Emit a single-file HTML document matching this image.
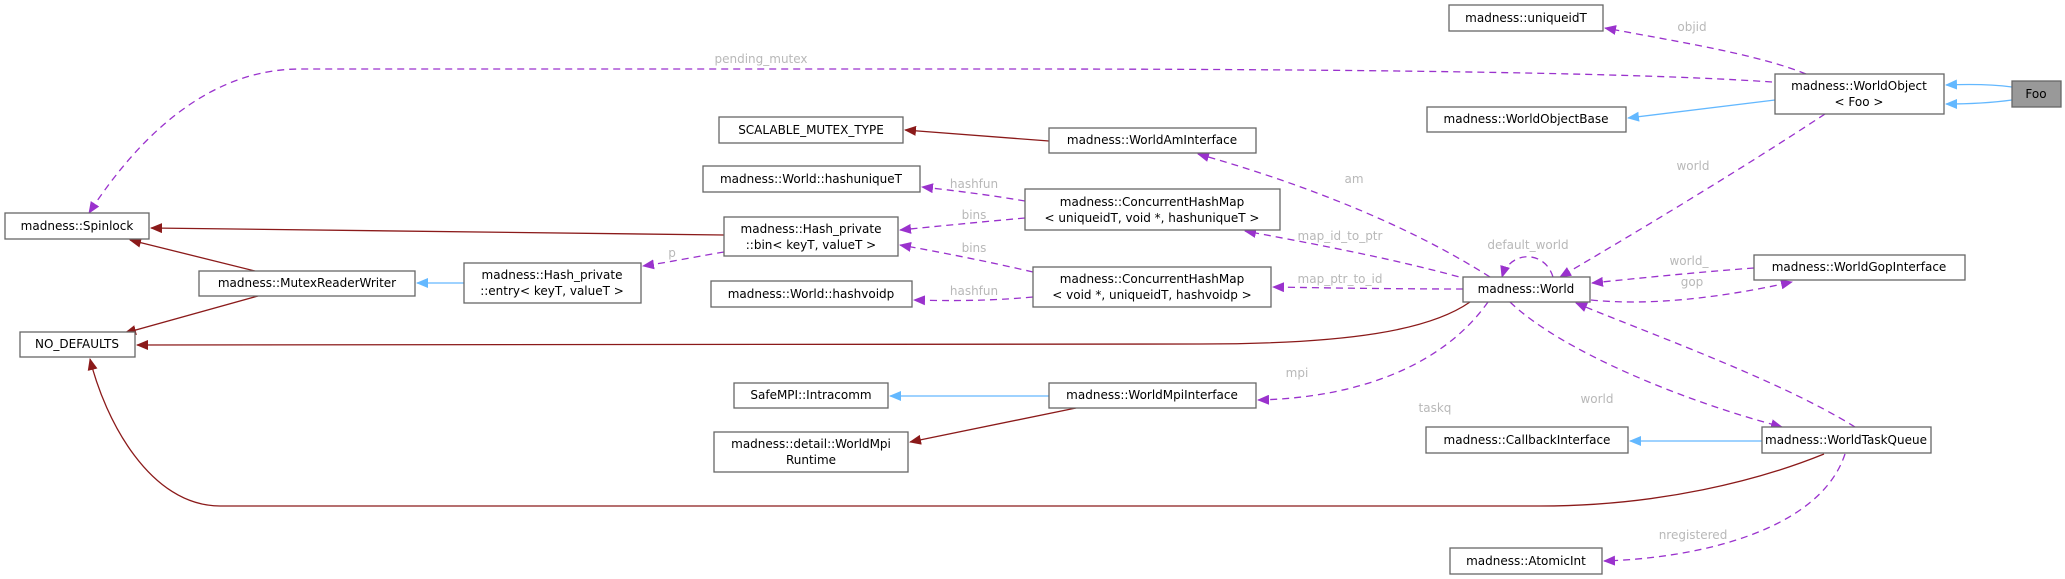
<!DOCTYPE html>
<html><head><meta charset="utf-8"><style>
html,body{margin:0;padding:0;background:#fff;}
svg{display:block;}
text{font-family:"DejaVu Sans","Liberation Sans",sans-serif;font-size:12px;}
.n{fill:#fff;stroke:#666;stroke-width:1.3;}
.t{fill:#000;text-anchor:middle;}
.l{fill:#b8b8b8;text-anchor:middle;}
.p{fill:none;stroke:#9a32cd;stroke-width:1.3;stroke-dasharray:7,5;}
.b{fill:none;stroke:#63b8ff;stroke-width:1.3;}
.r{fill:none;stroke:#8b1a1a;stroke-width:1.3;}
</style></head><body>
<svg width="2065" height="579" viewBox="0 0 2065 579" xmlns="http://www.w3.org/2000/svg">
<defs>
<marker id="mp" markerWidth="12" markerHeight="10" refX="11" refY="5" orient="auto" markerUnits="userSpaceOnUse"><path d="M0,0 L12,5 L0,10 z" fill="#9a32cd"/></marker>
<marker id="mb" markerWidth="12" markerHeight="10" refX="11" refY="5" orient="auto" markerUnits="userSpaceOnUse"><path d="M0,0 L12,5 L0,10 z" fill="#63b8ff"/></marker>
<marker id="mr" markerWidth="12" markerHeight="10" refX="11" refY="5" orient="auto" markerUnits="userSpaceOnUse"><path d="M0,0 L12,5 L0,10 z" fill="#8b1a1a"/></marker>
</defs>

<path class="b" d="M2012,87 C1990,84 1970,84 1946,85" marker-end="url(#mb)"/>
<path class="b" d="M2012,100 C1990,103 1970,104 1946,104" marker-end="url(#mb)"/>
<path class="b" d="M1775,100 L1628,118" marker-end="url(#mb)"/>
<path class="p" d="M1806,74 C1760,55 1680,42 1605,28" marker-end="url(#mp)"/>
<path class="p" d="M1772,82 C1600,70 1200,69 1000,69 L300,69 C200,69 130,150 89,213" marker-end="url(#mp)"/>
<path class="p" d="M1825,114 C1740,170 1640,230 1560,277" marker-end="url(#mp)"/>
<path class="p" d="M1553,277 C1545,250 1510,250 1502,277" marker-end="url(#mp)"/>
<path class="p" d="M1591,300 C1650,306 1720,298 1792,282" marker-end="url(#mp)"/>
<path class="p" d="M1754,268 C1700,272 1640,278 1592,283" marker-end="url(#mp)"/>
<path class="p" d="M1490,277 C1400,220 1290,180 1198,154" marker-end="url(#mp)"/>
<path class="p" d="M1470,280 C1400,260 1320,245 1245,231" marker-end="url(#mp)"/>
<path class="p" d="M1463,289 C1400,289 1330,288 1273,287" marker-end="url(#mp)"/>
<path class="r" d="M1470,302 C1430,330 1350,344 1200,344 L137,345" marker-end="url(#mr)"/>
<path class="p" d="M1488,302 C1440,370 1350,398 1258,400" marker-end="url(#mp)"/>
<path class="p" d="M1510,302 C1560,350 1680,400 1782,427" marker-end="url(#mp)"/>
<path class="p" d="M1855,427 C1780,380 1640,330 1576,303" marker-end="url(#mp)"/>
<path class="b" d="M1762,441 L1630,441" marker-end="url(#mb)"/>
<path class="r" d="M1824,454 C1760,480 1660,506 1540,506 L220,506 C150,506 105,420 90,359" marker-end="url(#mr)"/>
<path class="p" d="M1845,454 C1820,530 1700,558 1604,561" marker-end="url(#mp)"/>
<path class="b" d="M1049,396 L890,396" marker-end="url(#mb)"/>
<path class="r" d="M1076,408 L910,442" marker-end="url(#mr)"/>
<path class="r" d="M1049,141 L905,130" marker-end="url(#mr)"/>
<path class="p" d="M1025,201 C990,195 950,190 922,187" marker-end="url(#mp)"/>
<path class="p" d="M1025,218 C980,222 940,226 900,230" marker-end="url(#mp)"/>
<path class="p" d="M1033,272 C990,262 940,252 900,245" marker-end="url(#mp)"/>
<path class="p" d="M1033,297 C990,301 950,301 914,300" marker-end="url(#mp)"/>
<path class="r" d="M724,235 L151,228" marker-end="url(#mr)"/>
<path class="p" d="M724,252 C700,256 670,262 643,266" marker-end="url(#mp)"/>
<path class="b" d="M464,283 L417,283" marker-end="url(#mb)"/>
<path class="r" d="M255,271 L130,240" marker-end="url(#mr)"/>
<path class="r" d="M258,296 L125,333" marker-end="url(#mr)"/>

<text class="l" x="761" y="63">pending_mutex</text>
<text class="l" x="1692" y="31">objid</text>
<text class="l" x="1693" y="170">world</text>
<text class="l" x="1528" y="249">default_world</text>
<text class="l" x="1689" y="265">world_</text>
<text class="l" x="1692" y="286">gop</text>
<text class="l" x="1354" y="183">am</text>
<text class="l" x="1340" y="240">map_id_to_ptr</text>
<text class="l" x="1340" y="283">map_ptr_to_id</text>
<text class="l" x="974" y="188">hashfun</text>
<text class="l" x="974" y="219">bins</text>
<text class="l" x="974" y="252">bins</text>
<text class="l" x="974" y="295">hashfun</text>
<text class="l" x="672" y="257">p</text>
<text class="l" x="1297" y="377">mpi</text>
<text class="l" x="1435" y="412">taskq</text>
<text class="l" x="1597" y="403">world</text>
<text class="l" x="1693" y="539">nregistered</text>

<rect x="2012" y="81" width="49" height="26" fill="#999" stroke="#666" stroke-width="1.3"/><text class="t" x="2036" y="98">Foo</text>
<rect class="n" x="1775" y="74" width="169" height="40"/><text class="t" x="1859" y="90">madness::WorldObject</text><text class="t" x="1859" y="106">&lt; Foo &gt;</text>
<rect class="n" x="1449" y="5" width="154" height="26"/><text class="t" x="1526" y="22">madness::uniqueidT</text>
<rect class="n" x="1427" y="107" width="199" height="25"/><text class="t" x="1526" y="123">madness::WorldObjectBase</text>
<rect class="n" x="1463" y="277" width="127" height="25"/><text class="t" x="1526" y="293">madness::World</text>
<rect class="n" x="1754" y="255" width="211" height="25"/><text class="t" x="1859" y="271">madness::WorldGopInterface</text>
<rect class="n" x="5" y="213" width="144" height="26"/><text class="t" x="77" y="230">madness::Spinlock</text>
<rect class="n" x="199" y="271" width="216" height="25"/><text class="t" x="307" y="287">madness::MutexReaderWriter</text>
<rect class="n" x="464" y="263" width="177" height="40"/><text class="t" x="552" y="279">madness::Hash_private</text><text class="t" x="552" y="295">::entry&lt; keyT, valueT &gt;</text>
<rect class="n" x="20" y="332" width="115" height="25"/><text class="t" x="77" y="348">NO_DEFAULTS</text>
<rect class="n" x="719" y="117" width="184" height="26"/><text class="t" x="811" y="134">SCALABLE_MUTEX_TYPE</text>
<rect class="n" x="1049" y="128" width="207" height="25"/><text class="t" x="1152" y="144">madness::WorldAmInterface</text>
<rect class="n" x="703" y="166" width="217" height="26"/><text class="t" x="811" y="183">madness::World::hashuniqueT</text>
<rect class="n" x="1025" y="189" width="255" height="41"/><text class="t" x="1152" y="206">madness::ConcurrentHashMap</text><text class="t" x="1152" y="222">&lt; uniqueidT, void *, hashuniqueT &gt;</text>
<rect class="n" x="724" y="217" width="174" height="39"/><text class="t" x="811" y="233">madness::Hash_private</text><text class="t" x="811" y="249">::bin&lt; keyT, valueT &gt;</text>
<rect class="n" x="1033" y="267" width="238" height="40"/><text class="t" x="1152" y="283">madness::ConcurrentHashMap</text><text class="t" x="1152" y="299">&lt; void *, uniqueidT, hashvoidp &gt;</text>
<rect class="n" x="711" y="281" width="201" height="26"/><text class="t" x="811" y="298">madness::World::hashvoidp</text>
<rect class="n" x="734" y="383" width="154" height="25"/><text class="t" x="811" y="399">SafeMPI::Intracomm</text>
<rect class="n" x="1049" y="383" width="207" height="25"/><text class="t" x="1152" y="399">madness::WorldMpiInterface</text>
<rect class="n" x="714" y="432" width="194" height="40"/><text class="t" x="811" y="448">madness::detail::WorldMpi</text><text class="t" x="811" y="464">Runtime</text>
<rect class="n" x="1426" y="427" width="202" height="26"/><text class="t" x="1527" y="444">madness::CallbackInterface</text>
<rect class="n" x="1762" y="427" width="169" height="26"/><text class="t" x="1846" y="444">madness::WorldTaskQueue</text>
<rect class="n" x="1450" y="548" width="152" height="26"/><text class="t" x="1526" y="565">madness::AtomicInt</text>
</svg>
</body></html>
